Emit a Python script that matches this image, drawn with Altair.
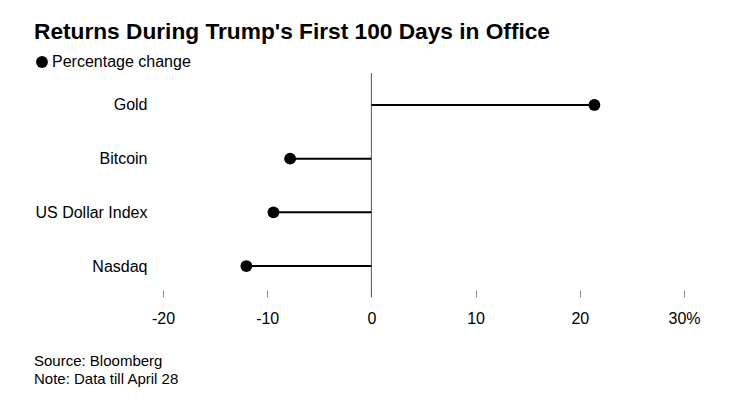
import altair as alt
import pandas as pd

categories = ["Gold", "Bitcoin", "US Dollar Index", "Nasdaq"]
changes = [21.4, -7.8, -9.4, -12.0]
x_ticks = [-20, -10, 0, 10, 20, 30]
title_text = "Returns During Trump's First 100 Days in Office"
series_name = "Percentage change"
footnotes = ["Source: Bloomberg", "Note: Data till April 28"]

df = pd.DataFrame({"asset": categories, "change": changes, "series": [series_name] * len(categories)})

W, H = 521, 209
FONT = "Liberation Sans"

xscale = alt.Scale(domain=[-20, 30], nice=False, zero=False)
x = alt.X(
    "change:Q",
    scale=xscale,
    axis=alt.Axis(
        values=x_ticks, title=None, domain=False, grid=False, tickSize=7,
        tickColor="#888888", tickWidth=1, labelFlush=False,
        labelExpr="datum.value == 30 ? '30%' : '' + datum.value",
        labelFontSize=16, labelColor="black", labelFont=FONT, labelPadding=13,
    ),
)
y = alt.Y(
    "asset:N", sort=categories,
    scale=alt.Scale(type="point", padding=0.446),
    axis=alt.Axis(title=None, domain=False, ticks=False, labelFontSize=16,
                  labelColor="black", labelPadding=16, labelFont=FONT),
)

base = alt.Chart(df)

stems = base.mark_rule(strokeWidth=2, color="black").encode(x=x, x2=alt.datum(0), y=y)

zero_line = alt.Chart(pd.DataFrame({"z": [0]})).mark_rule(color="#555555", strokeWidth=1).encode(
    x=alt.X("z:Q", scale=xscale), y=alt.value(-8), y2=alt.value(H + 7)
)

dots = base.mark_circle(size=140, opacity=1).encode(
    x=x, y=y,
    color=alt.Color(
        "series:N", scale=alt.Scale(range=["black"]),
        legend=alt.Legend(title=None, orient="none", legendX=-129, legendY=-27,
                          symbolType="circle", symbolSize=140, labelFontSize=16,
                          labelOffset=2,
                          labelFont=FONT, labelColor="black", symbolOpacity=1),
    ),
)

notes = []
for i, line in enumerate(footnotes):
    notes.append(
        alt.Chart(pd.DataFrame({"t": [line]})).mark_text(
            align="left", baseline="middle", fontSize=15, font=FONT, color="black"
        ).encode(text="t:N", x=alt.value(-129), y=alt.value(H + 71 + 18 * i))
    )

chart = alt.layer(zero_line, stems, dots, *notes).properties(
    width=W, height=H,
    background="white",
    autosize=alt.AutoSizeParams(type="none"),
    padding={"left": 155, "top": 73, "right": 48, "bottom": 100},
    title=alt.TitleParams(text=title_text, anchor="start", fontSize=22.7, font=FONT,
                          fontWeight="bold", color="black", offset=10),
).configure_view(stroke=None)

chart.save("out.html", embed_options={"renderer": "svg", "actions": False})
